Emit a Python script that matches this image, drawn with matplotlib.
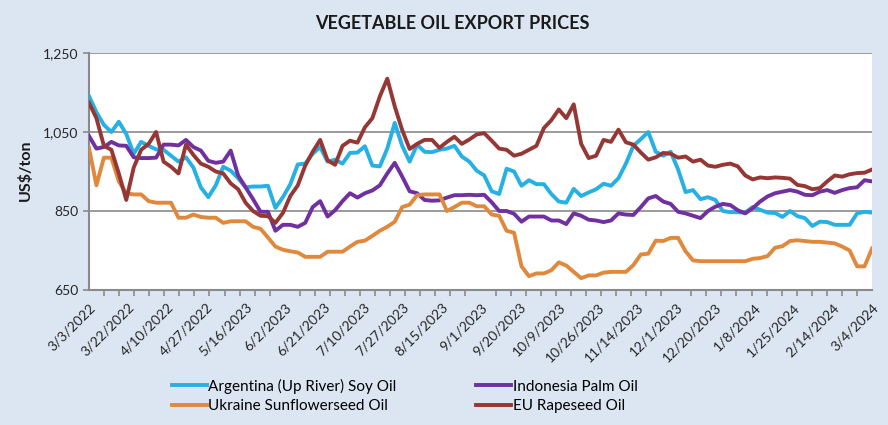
import numpy as np
import matplotlib.pyplot as plt
from matplotlib.ticker import FuncFormatter

plt.rcParams['font.family'] = ['Lato', 'DejaVu Sans']

# axis labels (category axis, labelled every few samples)
dates = ["3/3/2022", "3/22/2022", "4/10/2022", "4/27/2022", "5/16/2023", "6/2/2023",
         "6/21/2023", "7/10/2023", "7/27/2023", "8/15/2023", "9/1/2023", "9/20/2023",
         "10/9/2023", "10/26/2023", "11/14/2023", "12/1/2023", "12/20/2023", "1/8/2024",
         "1/25/2024", "2/14/2024", "3/4/2024"]

# US$/ton
soy = [1141, 1100, 1068, 1050, 1076, 1045, 995, 1025, 1015, 1006, 1005, 990, 975, 986, 960,
       910, 885, 915, 962, 952, 933, 910, 912, 912, 914, 858, 885,
       918, 968, 970, 995, 1012, 975, 980, 970, 997, 998, 1014, 965, 963, 1008, 1073, 1015,
       975, 1018, 1000, 999, 1005, 1008, 1015, 988, 975, 952,
       940, 900, 893, 957, 950, 914, 928, 918, 918, 893, 874, 871, 906, 888, 897, 905, 919,
       914, 933, 970, 1015, 1032, 1050, 1000, 990, 1000,
       955, 898, 903, 880, 885, 878, 850, 847, 847, 846, 860, 853, 846, 845, 835, 850, 837,
       832, 812, 823, 822, 815, 815, 815, 844, 848, 846]

palm = [1040, 1008, 1012, 1025, 1016, 1015, 986, 984, 984, 985, 1018, 1018, 1016, 1030, 1012,
        1003, 977, 972, 975, 1003, 940, 910, 880, 848, 848, 800, 815,
        815, 810, 820, 860, 875, 836, 852, 875, 895, 884, 895, 902, 915, 945, 972, 937, 900,
        895, 878, 876, 877, 884, 890, 890, 891, 890,
        891, 872, 850, 850, 843, 823, 836, 836, 836, 826, 826, 817, 844, 838, 828, 826, 822,
        826, 844, 841, 840, 860, 882, 888, 874, 868,
        848, 844, 838, 832, 850, 861, 868, 865, 852, 844, 857, 874, 887, 895, 899, 903, 899,
        891, 890, 899, 903, 896, 903, 908, 910, 928, 925]

sunflower = [1010, 915, 985, 985, 925, 895, 892, 892, 875, 871, 871, 871, 833, 833, 841,
             835, 833, 833, 820, 824, 824, 824, 810, 805, 783, 760, 752,
             748, 745, 734, 734, 734, 747, 747, 747, 760, 772, 775, 787, 800, 810, 823, 860,
             866, 890, 892, 892, 892, 850, 860, 871, 871, 862,
             862, 841, 838, 800, 795, 710, 685, 692, 692, 700, 720, 712, 696, 680, 687, 687,
             694, 696, 696, 696, 713, 740, 742, 775, 774, 782,
             782, 748, 725, 723, 723, 723, 723, 723, 723, 723, 729, 731, 736, 757, 761, 774,
             776, 774, 772, 772, 770, 768, 760, 750, 710, 710, 755]

rapeseed = [1124, 1085, 1015, 1005, 945, 878, 960, 1005, 1020, 1050, 975, 962, 945, 1018,
            992, 970, 962, 950, 945, 920, 905, 871, 850, 838, 837, 820, 845,
            888, 915, 965, 1000, 1030, 978, 967, 1015, 1028, 1023, 1062, 1085, 1140, 1185,
            1115, 1055, 1007, 1020, 1030, 1030, 1010, 1025, 1038, 1020, 1031, 1044,
            1047, 1028, 1008, 1005, 990, 995, 1005, 1015, 1060, 1080, 1107, 1085, 1120, 1020,
            984, 990, 1030, 1025, 1056, 1024, 1018, 998, 980, 986, 997, 995,
            985, 988, 975, 980, 965, 962, 967, 970, 963, 940, 930, 935, 933, 935, 934, 932,
            916, 913, 905, 908, 925, 940, 937, 943, 946, 947, 955]

x = np.arange(len(soy))

fig = plt.figure(figsize=(8.88, 4.25), dpi=100, facecolor='#dce6f2')
ax = fig.add_axes([0.1002, 0.3176, 0.8818, 0.5577])
ax.set_facecolor('white')

grid_col = '#8a8a8a'
lw = 2.8
ax.plot(x, soy, color='#26b0e4', lw=lw, label='Argentina (Up River) Soy Oil', zorder=3)
ax.plot(x, palm, color='#7030a0', lw=lw, label='Indonesia Palm Oil', zorder=3)
ax.plot(x, sunflower, color='#e0893c', lw=lw, label='Ukraine Sunflowerseed Oil', zorder=3)
ax.plot(x, rapeseed, color='#953735', lw=lw, label='EU Rapeseed Oil', zorder=3)

ax.set_ylim(650, 1250)
ax.set_yticks([650, 850, 1050, 1250])
ax.yaxis.set_major_formatter(FuncFormatter(lambda v, _: f"{v:,.0f}"))
ax.yaxis.grid(True, color=grid_col, lw=1.2)
ax.set_axisbelow(True)

ax.set_xlim(0, len(x) - 1)
ax.set_xticks(np.linspace(0, len(x) - 1, len(dates)))
ax.set_xticklabels(dates, rotation=45, ha='right', rotation_mode='anchor')
ax.set_xticks(np.linspace(0, len(x) - 1, 53), minor=True)
ax.tick_params(axis='x', which='major', length=0, pad=8, labelsize=10, colors='#262626')
ax.tick_params(axis='x', which='minor', length=4, color=grid_col, width=1.2)
ax.tick_params(axis='y', length=4, color=grid_col, width=1.2, labelsize=10, colors='#262626')
ax.tick_params(axis='y', colors=grid_col, labelcolor='#262626')

for s in ['top', 'right']:
    ax.spines[s].set_visible(False)
for s in ['left', 'bottom']:
    ax.spines[s].set_color(grid_col)
    ax.spines[s].set_linewidth(1.5)

fig.text(0.509, 0.944, 'VEGETABLE OIL EXPORT PRICES', ha='center', va='center',
         fontsize=13, fontweight='bold', color='#1a1a1a')
fig.text(25 / 888, 1 - 170 / 425, 'US$/ton', rotation=90, ha='center', va='center',
         fontsize=11.5, fontweight='bold', color='#1a1a1a')

h, l = ax.get_legend_handles_labels()
order = [0, 2, 1, 3]
fig.legend([h[i] for i in order], [l[i] for i in order], ncol=2, loc='upper left',
           bbox_to_anchor=(164 / 888, 1 - 371 / 425), frameon=False, fontsize=11,
           handlelength=2.3, handletextpad=0.1, columnspacing=5.2, labelspacing=0.35,
           borderpad=0)

fig.savefig('out.png', dpi=100, facecolor=fig.get_facecolor())
